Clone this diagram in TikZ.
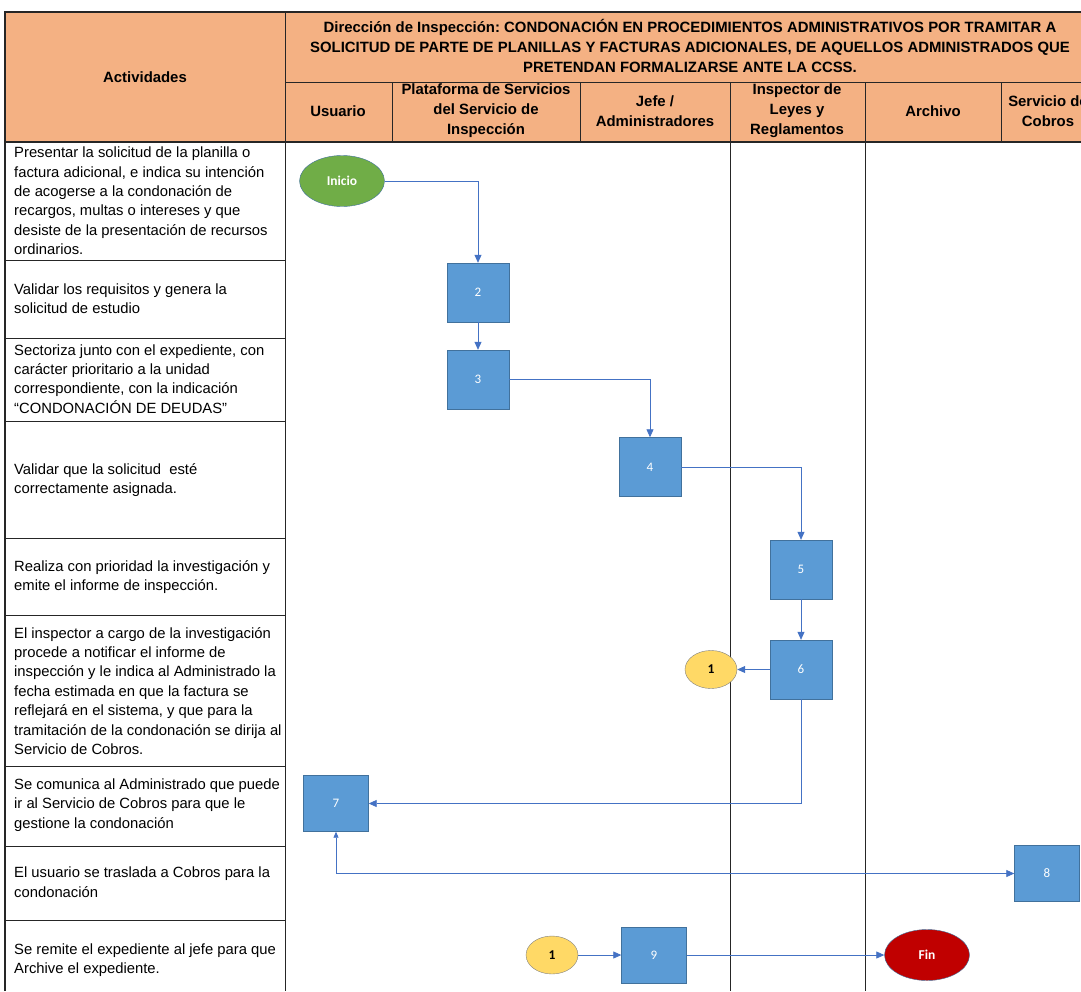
\documentclass[tikz,border=0pt]{standalone}
\usepackage{fontspec}
\setmainfont{Liberation Sans}
\newfontfamily\boxfont{Carlito}
\usepackage{xcolor}
\definecolor{flowHeader}{HTML}{F4B183}
\definecolor{flowLine}{HTML}{262626}
\definecolor{flowBox}{HTML}{5B9BD5}
\definecolor{flowBorder}{HTML}{41719C}
\definecolor{flowArrow}{HTML}{4472C4}
\definecolor{flowStart}{HTML}{70AD47}
\definecolor{flowEnd}{HTML}{C00000}
\definecolor{flowLink}{HTML}{FFD966}
\usepackage{tikz}
\usetikzlibrary{shapes.geometric,arrows.meta,positioning,calc}
\frenchspacing
\tikzset{
    grid/.style={
        draw=flowLine,
        line width=0.8pt
    },
    headtext/.style={
        align=center,
        inner sep=0pt,
        font=\bfseries\fontsize{14.9}{20}\selectfont
    },
    activity/.style={
        anchor=west,
        align=left,
        inner sep=0pt,
        font=\fontsize{14.8}{19.4}\selectfont
    },
    stepbox/.style={
        draw=flowBorder,
        fill=flowBox,
        rectangle,
        minimum width=62pt,
        minimum height=59pt,
        inner sep=0pt,
        text=white,
        font=\boxfont\fontsize{13}{15}\selectfont
    },
    widebox/.style={
        stepbox,
        minimum width=65pt,
        minimum height=56pt
    },
    terminal/.style={
        draw=flowBorder,
        ellipse,
        minimum width=85pt,
        minimum height=51pt,
        inner sep=0pt,
        text=white,
        font=\boxfont\bfseries\fontsize{13.5}{15}\selectfont
    },
    link/.style={
        draw=gray,
        fill=flowLink,
        ellipse,
        minimum width=52pt,
        minimum height=38pt,
        inner sep=0pt,
        font=\boxfont\bfseries\fontsize{13.5}{15}\selectfont
    },
    arrow/.style={
        -{Triangle[length=8pt,width=7pt]},
        line width=0.8pt,
        color=flowArrow
    },
    arrowboth/.style={
        {Triangle[length=6pt,width=5pt]}-{Triangle[length=8pt,width=7pt]},
        line width=0.8pt,
        color=flowArrow
    }
}

\begin{document}
\begin{tikzpicture}[x=1pt,y=-1pt]
    \useasboundingbox (0,0) rectangle (1081,991);
    \clip (0,0) rectangle (1081,991);

    % Table header
    \fill[flowHeader] (5,12) rectangle (1100,142);
    \draw[grid, line width=1.5pt] (5,991) -- (5,12) -- (1100,12);
    \draw[grid] (285,82) -- (1100,82);
    \draw[grid, line width=1.5pt] (5,142) -- (1100,142);
    \draw[grid] (285,12) -- (285,991);
    \foreach \x in {392,580,1001} \draw[grid] (\x,82) -- (\x,142);
    \foreach \x in {730,865} \draw[grid] (\x,82) -- (\x,991);
    \foreach \y in {260,338,421,538,615,766,846,920} \draw[grid] (5,\y) -- (285,\y);

    \node[headtext] (hact) at (145,77) {Actividades};
    \node[headtext] (htitle) at (690,46) {Dirección de Inspección: CONDONACIÓN EN PROCEDIMIENTOS ADMINISTRATIVOS POR TRAMITAR A\\SOLICITUD DE PARTE DE PLANILLAS Y FACTURAS ADICIONALES, DE AQUELLOS ADMINISTRADOS QUE\\PRETENDAN FORMALIZARSE ANTE LA CCSS.};
    \node[headtext] (husuario) at (338,111) {Usuario};
    \node[headtext] (hplataforma) at (486,111) {Plataforma de Servicios\\del Servicio de\\Inspección};
    \node[headtext] (hjefe) at (655,111) {Jefe /\\Administradores};
    \node[headtext] (hinspector) at (797,111) {Inspector de\\Leyes y\\Reglamentos};
    \node[headtext] (harchivo) at (933,111) {Archivo};
    \node[headtext] (hcobros) at (1048,111) {Servicio de\\Cobros};

    % Activities
    \node[activity] (a1) at (14,201) {Presentar la solicitud de la planilla o\\factura adicional, e indica su intención\\de acogerse a la condonación de\\recargos, multas o intereses y que\\desiste de la presentación de recursos\\ordinarios.};
    \node[activity] (a2) at (14,299) {Validar los requisitos y genera la\\solicitud de estudio};
    \node[activity] (a3) at (14,379) {Sectoriza junto con el expediente, con\\carácter prioritario a la unidad\\correspondiente, con la indicación\\“CONDONACIÓN DE DEUDAS”};
    \node[activity] (a4) at (14,480) {Validar que la solicitud\ \ esté\\correctamente asignada.};
    \node[activity] (a5) at (14,577) {Realiza con prioridad la investigación y\\emite el informe de inspección.};
    \node[activity] (a6) at (14,691) {El inspector a cargo de la investigación\\procede a notificar el informe de\\inspección y le indica al Administrado la\\fecha estimada en que la factura se\\reflejará en el sistema, y que para la\\tramitación de la condonación se dirija al\\Servicio de Cobros.};
    \node[activity] (a7) at (14,805) {Se comunica al Administrado que puede\\ir al Servicio de Cobros para que le\\gestione la condonación};
    \node[activity] (a8) at (14,882) {El usuario se traslada a Cobros para la\\condonación};
    \node[activity] (a9) at (14,960) {Se remite el expediente al jefe para que\\Archive el expediente.};

    % Flow
    \node[terminal, fill=flowStart] (inicio) at (342,181) {Inicio};
    \node[stepbox] (s2) at (478,292.5) {2};
    \node[stepbox] (s3) at (478,379.5) {3};
    \node[stepbox] (s4) at (650,467) {4};
    \node[stepbox] (s5) at (801,569.5) {5};
    \node[stepbox] (s6) at (801,669.5) {6};
    \node[link] (link1) at (711,669.5) {1};
    \node[widebox] (s7) at (336,803.5) {7};
    \node[widebox] (s8) at (1047,873.5) {8};
    \node[link] (link2) at (552,955) {1};
    \node[widebox] (s9) at (654,955) {9};
    \node[terminal, fill=flowEnd] (fin) at (927,955) {Fin};

    % Connections
    \draw[arrow] (inicio.east) -| (s2.north);
    \draw[arrow] (s2) -- (s3);
    \draw[arrow] (s3.east) -| (s4.north);
    \draw[arrow] (s4.east) -| (s5.north);
    \draw[arrow] (s5) -- (s6);
    \draw[arrow] (s6) -- (link1);
    \draw[arrow] (s6.south) |- (s7.east);
    \draw[arrowboth] (s7.south) |- (s8.west);
    \draw[arrow] (link2) -- (s9);
    \draw[arrow] (s9) -- (fin);
\end{tikzpicture}
\end{document}
